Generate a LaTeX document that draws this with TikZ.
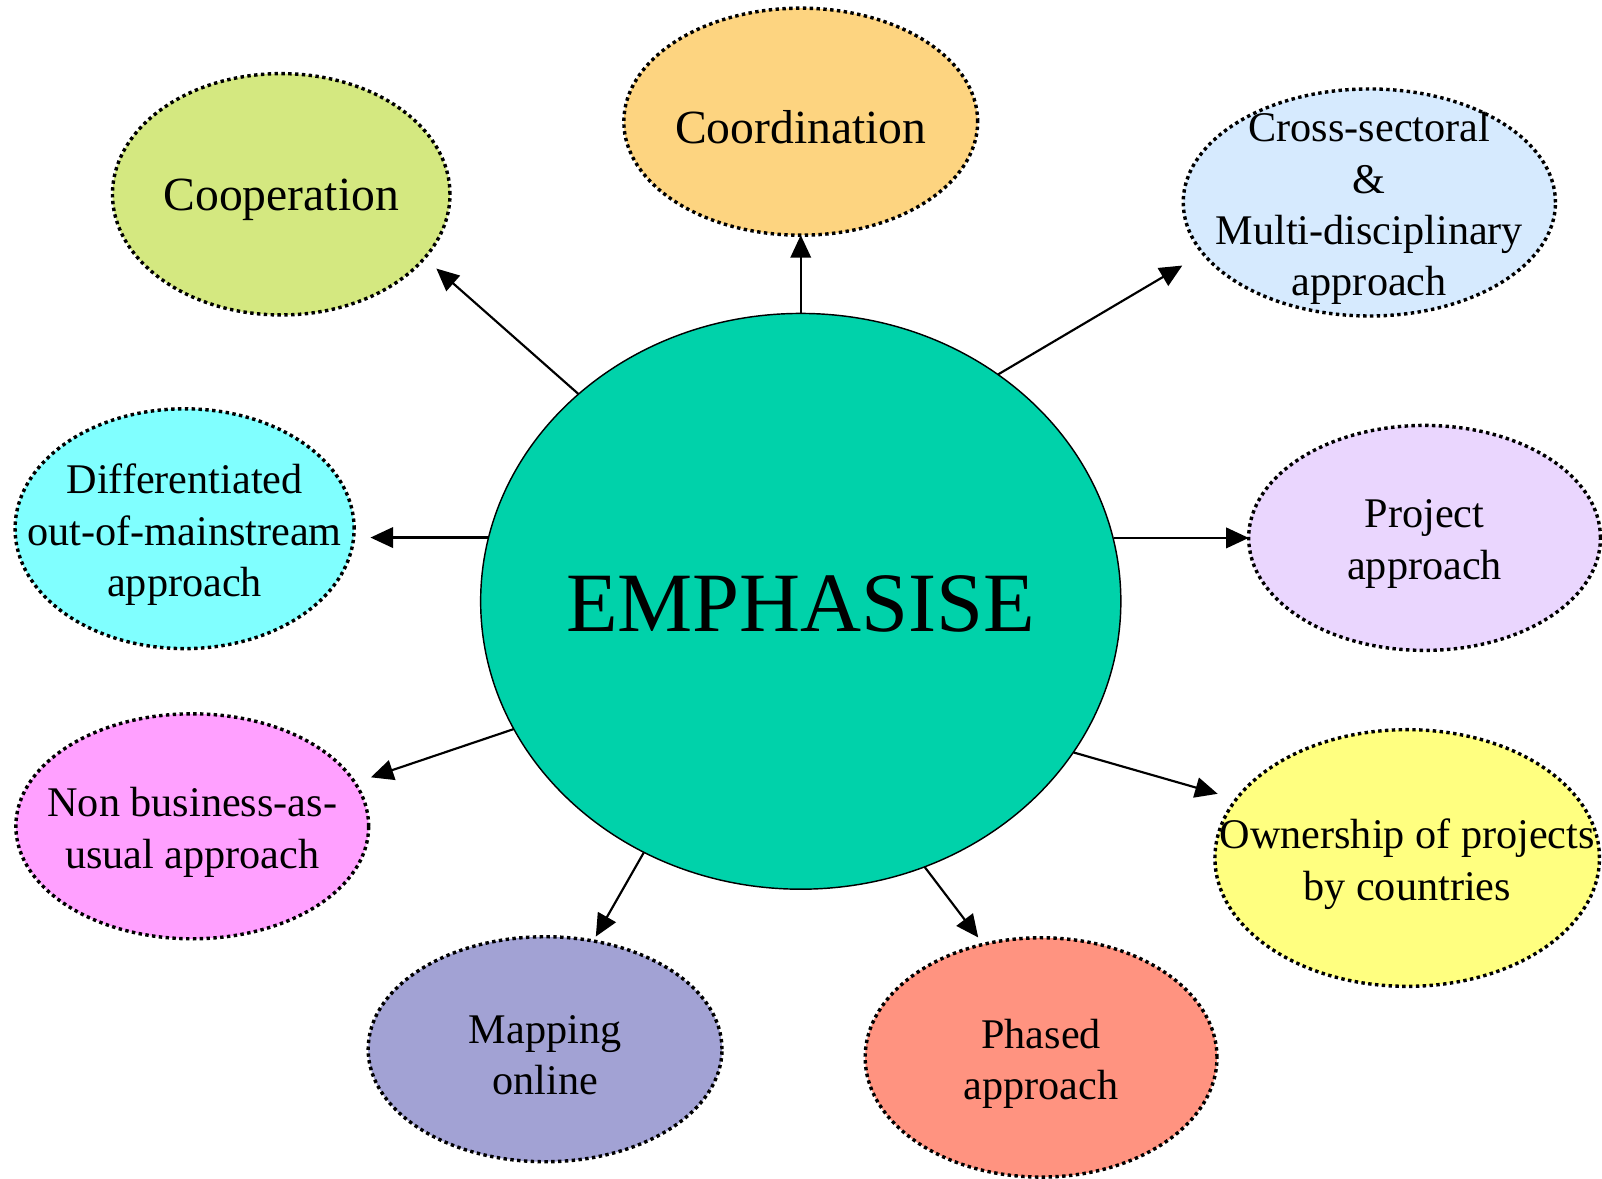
\documentclass[tikz,border=0pt]{standalone}
\usepackage[dvipsnames]{xcolor}
\usepackage{fontspec}
\setmainfont{Liberation Serif}
\usetikzlibrary{shapes.geometric,arrows.meta}
\definecolor{emphgreen}{RGB}{0,210,170}
\definecolor{coordorange}{RGB}{253,212,128}
\definecolor{coopgreen}{RGB}{212,232,128}
\definecolor{crossblue}{RGB}{214,234,254}
\definecolor{diffcyan}{RGB}{128,255,255}
\definecolor{projlilac}{RGB}{234,214,254}
\definecolor{nonbpink}{RGB}{255,160,255}
\definecolor{ownyellow}{RGB}{255,255,128}
\definecolor{mapblue}{RGB}{162,162,212}
\definecolor{phasered}{RGB}{255,147,128}

\begin{document}
\begin{tikzpicture}[
  bubble/.style={ellipse, draw, line width=1.9pt, dash pattern=on 1.9pt off 1.9pt, inner sep=0pt, outer sep=0pt},
  txt/.style={font=\fontsize{23.5}{28.5}\selectfont, align=center, yshift=-0.12cm},
  bigtxt/.style={font=\fontsize{26.5}{32}\selectfont, align=center, yshift=-0.1cm},
  arr/.style={-{Triangle[length=0.44cm,width=0.4cm]}, line width=1.2pt}]
\useasboundingbox (0,0) rectangle (31.33,23.04);

\node[ellipse, draw, line width=0.8pt, fill=emphgreen, minimum width=12.52cm, minimum height=11.26cm, inner sep=0pt, outer sep=0pt,
  label={[font=\fontsize{47}{56}\selectfont, yshift=-0.05cm]center:EMPHASISE}] (emph) at (15.66,11.28) {};

\node[bubble, fill=coordorange, minimum width=6.92cm, minimum height=4.44cm, label={[bigtxt]center:Coordination}] (coord) at (15.66,20.66) {};
\node[bubble, fill=coopgreen, minimum width=6.6cm, minimum height=4.72cm, label={[bigtxt]center:Cooperation}] (coop) at (5.5,19.24) {};
\node[bubble, fill=crossblue, minimum width=7.28cm, minimum height=4.44cm, label={[txt]center:Cross-sectoral\\\&\\Multi-disciplinary\\approach}] (cross) at (26.78,19.08) {};
\node[bubble, fill=diffcyan, minimum width=6.63cm, minimum height=4.69cm, label={[txt]center:Differentiated\\out-of-mainstream\\approach}] (diff) at (3.61,12.70) {};
\node[bubble, fill=projlilac, minimum width=6.88cm, minimum height=4.4cm, label={[txt]center:Project\\approach}] (proj) at (27.86,12.52) {};
\node[bubble, fill=nonbpink, minimum width=6.9cm, minimum height=4.4cm, label={[txt]center:Non business-as-\\usual approach}] (nonb) at (3.76,6.88) {};
\node[bubble, fill=ownyellow, minimum width=7.52cm, minimum height=5.02cm, label={[txt]center:Ownership of projects\\by countries}] (own) at (27.52,6.26) {};
\node[bubble, fill=mapblue, minimum width=6.92cm, minimum height=4.4cm, label={[txt]center:Mapping\\online}] (map) at (10.66,2.52) {};
\node[bubble, fill=phasered, minimum width=6.88cm, minimum height=4.68cm, label={[txt]center:Phased\\approach}] (phase) at (20.36,2.36) {};

\draw[arr] (emph.90) -- (coord.270);
\draw[arr, shorten >=0.31cm] (emph.137) -- (coop.336);
\draw[arr, shorten >=0.47cm] (emph.49) -- (cross.197.5);
\draw[arr, shorten >=0.33cm] (emph.169 |- diff.357) -- (diff.357);
\draw[arr] (emph.11.5 |- proj.west) -- (proj.west);
\draw[arr, shorten >=0.33cm] (emph.204.3) -- (nonb.15.2);
\draw[arr, shorten >=0.38cm] (emph.331.9) -- (own.161.5);
\draw[arr, shorten >=0.1cm] (emph.238.1) -- (map.66);
\draw[arr, shorten >=0.17cm] (emph.295.5) -- (phase.117.3);
\end{tikzpicture}
\end{document}
